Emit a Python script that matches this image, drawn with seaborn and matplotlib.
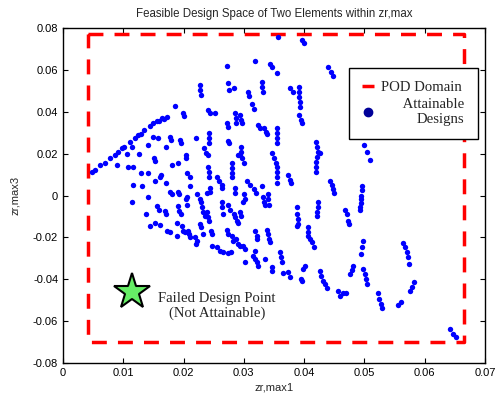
import matplotlib
matplotlib.use("Agg")
import matplotlib.pyplot as plt
import pandas as pd
import seaborn as sns
from matplotlib.lines import Line2D
from matplotlib.ticker import FuncFormatter

# --- data -------------------------------------------------------------------
# upper-left envelope of the feasible region
edge_pts = [(0.0048, 0.0114), (0.0053, 0.0124), (0.0061, 0.0148), (0.0070, 0.0157),
            (0.0078, 0.0181), (0.0086, 0.0195), (0.0091, 0.0209), (0.0098, 0.0228),
            (0.0101, 0.0233), (0.0111, 0.0257), (0.0119, 0.0276), (0.0124, 0.0290),
            (0.0129, 0.0295), (0.0134, 0.0314), (0.0144, 0.0333), (0.0149, 0.0347),
            (0.0156, 0.0357), (0.0159, 0.0357), (0.0164, 0.0371), (0.0167, 0.0367),
            (0.0172, 0.0376), (0.0186, 0.0428), (0.0199, 0.0395), (0.0201, 0.0381)]

left_pts = [(0.0090, 0.0148), (0.0106, 0.0200), (0.0108, 0.0138), (0.0116, 0.0138),
            (0.0114, 0.0233), (0.0126, 0.0200), (0.0129, 0.0109), (0.0141, 0.0243),
            (0.0149, 0.0281), (0.0158, 0.0276), (0.0151, 0.0181), (0.0153, 0.0167),
            (0.0171, 0.0233), (0.0177, 0.0281), (0.0179, 0.0267), (0.0181, 0.0148),
            (0.0191, 0.0157), (0.0194, 0.0267), (0.0196, 0.0252), (0.0141, 0.0109),
            (0.0153, 0.0067), (0.0161, 0.0090), (0.0162, 0.0100), (0.0171, 0.0062),
            (0.0116, 0.0052), (0.0131, 0.0043), (0.0141, -0.0005), (0.0177, 0.0019),
            (0.0181, 0.0005), (0.0191, 0.0019), (0.0192, 0.0005), (0.0206, 0.0109),
            (0.0211, 0.0090), (0.0222, 0.0005), (0.0239, 0.0014)]

lower_left_pts = [(0.0114, -0.0033), (0.0138, -0.0086), (0.0144, -0.0148), (0.0153, -0.0133),
                  (0.0161, -0.0143), (0.0156, -0.0052), (0.0159, -0.0067), (0.0169, -0.0076),
                  (0.0171, -0.0090), (0.0172, -0.0171), (0.0177, -0.0176), (0.0189, -0.0195),
                  (0.0189, -0.0129), (0.0191, -0.0052), (0.0192, -0.0076), (0.0196, -0.0090),
                  (0.0197, -0.0148), (0.0199, -0.0171), (0.0202, -0.0176), (0.0206, -0.0043)]

lower_mid_pts = [(0.0244, 0.0038), (0.0244, 0.0019), (0.0227, -0.0019), (0.0229, -0.0033),
                 (0.0206, -0.0005), (0.0204, -0.0019), (0.0264, 0.0038), (0.0285, 0.0038),
                 (0.0285, 0.0014), (0.0300, 0.0005), (0.0302, -0.0019), (0.0317, 0.0029),
                 (0.0320, 0.0014), (0.0332, -0.0005), (0.0333, -0.0029), (0.0335, -0.0043),
                 (0.0340, 0.0005), (0.0340, -0.0019), (0.0342, -0.0043), (0.0230, -0.0057),
                 (0.0232, -0.0081), (0.0235, -0.0100), (0.0239, -0.0081), (0.0240, -0.0105),
                 (0.0242, -0.0124), (0.0264, -0.0033), (0.0264, -0.0057), (0.0265, -0.0090),
                 (0.0274, -0.0043), (0.0277, -0.0067), (0.0284, -0.0090), (0.0285, -0.0105),
                 (0.0288, -0.0124), (0.0290, -0.0129), (0.0227, -0.0138), (0.0229, -0.0152),
                 (0.0207, -0.0171), (0.0209, -0.0186), (0.0211, -0.0200), (0.0219, -0.0200),
                 (0.0222, -0.0219), (0.0221, -0.0233), (0.0232, -0.0186), (0.0245, -0.0171),
                 (0.0247, -0.0186), (0.0247, -0.0243), (0.0255, -0.0248), (0.0260, -0.0267),
                 (0.0265, -0.0271), (0.0274, -0.0276), (0.0279, -0.0271), (0.0272, -0.0167),
                 (0.0274, -0.0186), (0.0280, -0.0195), (0.0282, -0.0219), (0.0287, -0.0209),
                 (0.0290, -0.0233), (0.0293, -0.0243), (0.0298, -0.0243), (0.0302, -0.0257),
                 (0.0318, -0.0171), (0.0322, -0.0195), (0.0322, -0.0209), (0.0338, -0.0167),
                 (0.0340, -0.0186), (0.0342, -0.0209), (0.0343, -0.0224), (0.0318, -0.0267),
                 (0.0315, -0.0290), (0.0318, -0.0305), (0.0322, -0.0319), (0.0323, -0.0338),
                 (0.0302, -0.0319), (0.0335, -0.0305), (0.0347, -0.0343), (0.0347, -0.0362),
                 (0.0360, -0.0271), (0.0361, -0.0295), (0.0363, -0.0319), (0.0365, -0.0371),
                 (0.0293, -0.0081), (0.0295, -0.0100), (0.0298, -0.0033)]

upper_mid_pts = [(0.0272, 0.0619), (0.0318, 0.0643), (0.0343, 0.0628), (0.0347, 0.0614),
                 (0.0355, 0.0585), (0.0356, 0.0757), (0.0227, 0.0528), (0.0227, 0.0505),
                 (0.0229, 0.0481), (0.0274, 0.0538), (0.0275, 0.0505), (0.0284, 0.0514),
                 (0.0307, 0.0495), (0.0308, 0.0476), (0.0313, 0.0438), (0.0317, 0.0414),
                 (0.0330, 0.0543), (0.0330, 0.0519), (0.0332, 0.0495), (0.0240, 0.0409),
                 (0.0244, 0.0395), (0.0252, 0.0395), (0.0272, 0.0347), (0.0274, 0.0328),
                 (0.0285, 0.0395), (0.0287, 0.0371), (0.0287, 0.0347), (0.0293, 0.0386),
                 (0.0295, 0.0362), (0.0297, 0.0347), (0.0323, 0.0338), (0.0327, 0.0324),
                 (0.0333, 0.0324), (0.0337, 0.0305), (0.0338, 0.0295), (0.0355, 0.0324),
                 (0.0355, 0.0300), (0.0355, 0.0276), (0.0355, 0.0252), (0.0221, 0.0276),
                 (0.0242, 0.0300), (0.0242, 0.0276), (0.0242, 0.0252), (0.0274, 0.0262),
                 (0.0275, 0.0252), (0.0234, 0.0228), (0.0237, 0.0205), (0.0240, 0.0195),
                 (0.0295, 0.0233), (0.0295, 0.0209), (0.0293, 0.0195), (0.0290, 0.0195),
                 (0.0297, 0.0181), (0.0300, 0.0157), (0.0204, 0.0195), (0.0204, 0.0181),
                 (0.0347, 0.0205), (0.0350, 0.0181), (0.0353, 0.0157), (0.0355, 0.0138),
                 (0.0355, 0.0114), (0.0355, 0.0090), (0.0355, 0.0062), (0.0240, 0.0138),
                 (0.0242, 0.0114), (0.0242, 0.0090), (0.0280, 0.0157), (0.0280, 0.0133),
                 (0.0280, 0.0109), (0.0280, 0.0090), (0.0255, 0.0090), (0.0259, 0.0067),
                 (0.0264, 0.0052), (0.0305, 0.0067), (0.0310, 0.0052), (0.0330, 0.0043),
                 (0.0211, 0.0043)]

upper_right_pts = [(0.0396, 0.0743), (0.0400, 0.0728), (0.0439, 0.0614), (0.0444, 0.0590),
                   (0.0448, 0.0571), (0.0376, 0.0514), (0.0381, 0.0495), (0.0391, 0.0519),
                   (0.0391, 0.0495), (0.0391, 0.0471), (0.0393, 0.0447), (0.0393, 0.0424),
                   (0.0391, 0.0386), (0.0395, 0.0362), (0.0396, 0.0347), (0.0499, 0.0243),
                   (0.0504, 0.0209), (0.0509, 0.0171), (0.0419, 0.0257), (0.0421, 0.0233),
                   (0.0423, 0.0209), (0.0426, 0.0205), (0.0421, 0.0186), (0.0419, 0.0162),
                   (0.0419, 0.0138), (0.0419, 0.0114), (0.0373, 0.0100), (0.0376, 0.0076),
                   (0.0378, 0.0062), (0.0443, 0.0067), (0.0446, 0.0048), (0.0448, 0.0029),
                   (0.0449, 0.0014)]

lower_right_pts = [(0.0496, 0.0043), (0.0496, 0.0024), (0.0494, 0.0000), (0.0494, -0.0019),
                   (0.0494, -0.0038), (0.0492, -0.0057), (0.0492, -0.0071), (0.0423, -0.0029),
                   (0.0423, -0.0057), (0.0421, -0.0081), (0.0421, -0.0100), (0.0388, -0.0057),
                   (0.0388, -0.0090), (0.0390, -0.0114), (0.0390, -0.0138), (0.0388, -0.0148),
                   (0.0468, -0.0067), (0.0471, -0.0090), (0.0473, -0.0124), (0.0474, -0.0138),
                   (0.0406, -0.0152), (0.0406, -0.0176), (0.0406, -0.0195), (0.0410, -0.0209),
                   (0.0413, -0.0224), (0.0416, -0.0248), (0.0497, -0.0219), (0.0496, -0.0248),
                   (0.0494, -0.0281), (0.0373, -0.0367), (0.0376, -0.0390), (0.0401, -0.0338),
                   (0.0398, -0.0352), (0.0395, -0.0400), (0.0396, -0.0409), (0.0426, -0.0362),
                   (0.0428, -0.0386), (0.0431, -0.0409), (0.0434, -0.0424), (0.0438, -0.0443),
                   (0.0481, -0.0338), (0.0479, -0.0357), (0.0476, -0.0376), (0.0497, -0.0352),
                   (0.0501, -0.0376), (0.0502, -0.0400), (0.0504, -0.0424), (0.0456, -0.0457),
                   (0.0459, -0.0481), (0.0464, -0.0466), (0.0469, -0.0466), (0.0522, -0.0466),
                   (0.0524, -0.0495), (0.0527, -0.0519), (0.0529, -0.0538), (0.0564, -0.0228),
                   (0.0567, -0.0248), (0.0570, -0.0271), (0.0572, -0.0295), (0.0574, -0.0328),
                   (0.0582, -0.0414), (0.0579, -0.0438), (0.0575, -0.0457), (0.0560, -0.0509),
                   (0.0555, -0.0524), (0.0642, -0.0638), (0.0647, -0.0662), (0.0652, -0.0676)]

# POD domain box and the failed design point
pod_x = [0.0042, 0.0665]
pod_y = [-0.0700, 0.0770]
failed_x = [0.0114]
failed_y = [-0.0460]

x_ticks = [0, 0.01, 0.02, 0.03, 0.04, 0.05, 0.06, 0.07]
y_ticks = [-0.08, -0.06, -0.04, -0.02, 0, 0.02, 0.04, 0.06, 0.08]

designs = pd.DataFrame(edge_pts + left_pts + lower_left_pts + lower_mid_pts
                       + upper_mid_pts + upper_right_pts + lower_right_pts,
                       columns=["zr_max1", "zr_max3"])

# --- style -------------------------------------------------------------------
sns.set_theme(style="ticks")
plt.rcParams["font.family"] = ["Liberation Sans", "DejaVu Sans"]
plt.rcParams.update({
    "axes.unicode_minus": False,
    "xtick.direction": "in", "ytick.direction": "in",
    "xtick.top": True, "ytick.right": True,
    "axes.edgecolor": "black", "axes.linewidth": 1.0,
})
serif = ["Liberation Serif", "DejaVu Serif"]

fig, ax = plt.subplots(figsize=(5, 4), dpi=100)
fig.subplots_adjust(left=0.126, right=0.97, bottom=0.0925, top=0.93)

# POD domain (dashed red rectangle)
box_x = [pod_x[0], pod_x[1], pod_x[1], pod_x[0], pod_x[0]]
box_y = [pod_y[1], pod_y[1], pod_y[0], pod_y[0], pod_y[1]]
ax.plot(box_x, box_y, color="red", lw=2.5, dashes=(4.3, 3.2), zorder=2)

# attainable designs
sns.scatterplot(data=designs, x="zr_max1", y="zr_max3", color="blue", s=15,
                linewidth=0, legend=False, ax=ax, zorder=3)

# failed design point
ax.plot(failed_x, failed_y, marker="*", ms=27, mfc="#66ee66", mec="black",
        mew=1.5, ls="none", zorder=4)
ax.text(0.0255, -0.0528, "Failed Design Point\n(Not Attainable)", ha="center",
        va="center", multialignment="center", fontsize=10.6, family=serif)

ax.set_xlim(0, 0.07)
ax.set_ylim(-0.08, 0.08)
ax.set_xticks(x_ticks)
ax.set_yticks(y_ticks)
ax.xaxis.set_major_formatter(FuncFormatter(lambda v, _: f"{v:g}"))
ax.yaxis.set_major_formatter(FuncFormatter(lambda v, _: f"{v:g}"))
ax.tick_params(labelsize=8, length=3.5, width=0.8, colors="black")

ax.set_title("Feasible Design Space of Two Elements within zr,max", fontsize=8.3, pad=8)
ax.set_xlabel("zr,max1", fontsize=8, labelpad=3)
ax.set_ylabel("zr,max3", fontsize=8, labelpad=9)

handles = [Line2D([], [], color="red", lw=2.5, dashes=(4.3, 3.2)),
           Line2D([], [], marker="o", color="#000099", ls="none", ms=6)]
leg = ax.legend(handles, ["POD Domain", "      Attainable\nDesigns"],
                loc="upper right", bbox_to_anchor=(0.983, 0.881), borderaxespad=0,
                prop={"family": serif, "size": 10.6}, frameon=True, fancybox=False,
                edgecolor="black", framealpha=1, handlelength=0.8,
                handletextpad=0.5, borderpad=0.9, labelspacing=0.25)
leg.get_frame().set_linewidth(1.0)
for t in leg.get_texts():
    t.set_multialignment("right")

fig.savefig("out.png", dpi=100)
